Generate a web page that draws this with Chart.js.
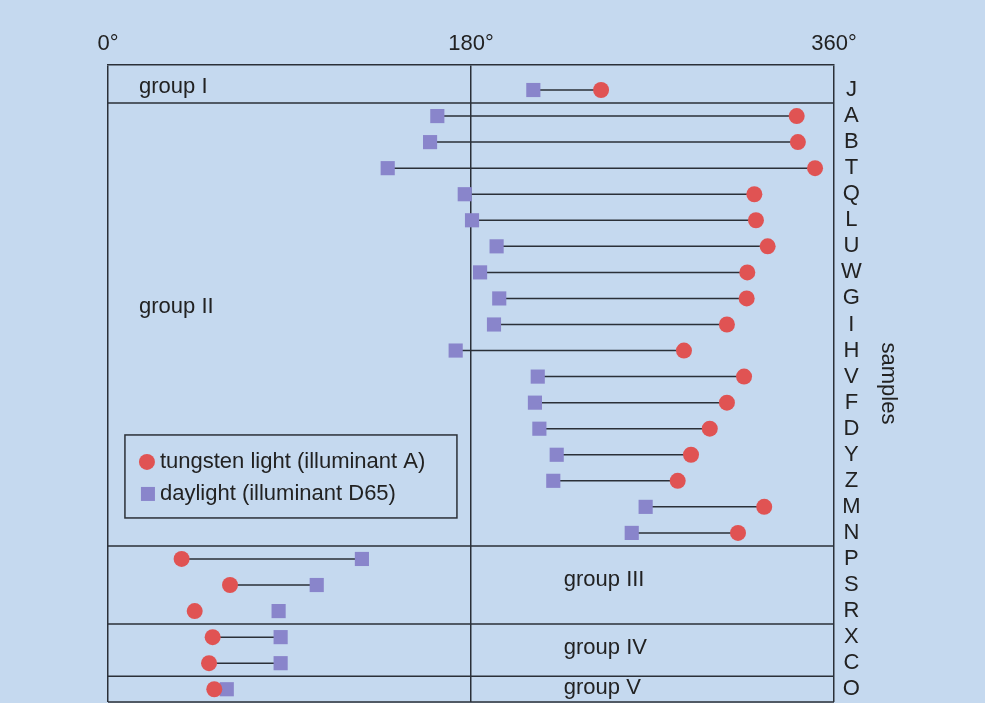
<!DOCTYPE html>
<html>
<head>
<meta charset="utf-8">
<script src="https://cdn.jsdelivr.net/npm/chart.js@4.4.1/dist/chart.umd.min.js"></script>
<style>
  html, body { margin: 0; padding: 0; background: #c5d9ef; }
  #wrap { width: 985px; height: 703px; position: relative; }
</style>
</head>
<body>
<div id="wrap"><canvas id="hueChart"></canvas></div>
<script>
// ====== DATA ======
const samples = ['J','A','B','T','Q','L','U','W','G','I','H','V','F','D','Y','Z','M','N','P','S','R','X','C','O'];
// hue angle (degrees) under tungsten light (illuminant A)
const tungsten = [244.5, 341.5, 342.1, 350.6, 320.5, 321.3, 327.1, 317.0, 316.7, 306.9, 285.6, 315.4,
                  306.9, 298.4, 289.1, 282.5, 325.4, 312.4, 36.5, 60.5, 43.0, 51.9, 50.1, 52.7];
// hue angle (degrees) under daylight (illuminant D65)
const daylight = [210.9, 163.3, 159.7, 138.7, 176.9, 180.5, 192.7, 184.5, 194.0, 191.4, 172.4, 213.1,
                  211.7, 213.9, 222.5, 220.8, 266.6, 259.7, 125.9, 103.5, 84.6, 85.6, 85.6, 58.9];
// samples drawn without a connecting line
const noLink = ['R'];
const xTicks = [0, 180, 360];
const groupNames = ['group I', 'group II', 'group III', 'group IV', 'group V'];
// group boundaries between rows (row index units)
const groupBreaks = [0.5, 17.5, 20.5, 22.5];

const RED = '#e05353';
const PURPLE = '#8985cb';
const INK = '#2b3038';
const FONT = "'Liberation Sans', Arial, Helvetica, sans-serif";

// group label anchors: [x in degrees, y in row units]
const groupLabelPos = [[15.4, -0.1], [15.4, 8.33], [226, 18.8], [226, 21.4], [226, 22.95]];

// connector segments, broken by null gaps
const links = [];
samples.forEach((s, i) => {
  if (noLink.includes(s)) return;
  links.push({x: daylight[i], y: i}, {x: tungsten[i], y: i}, {x: null, y: null});
});

const framePlugin = {
  id: 'frame',
  beforeDatasetsDraw(chart) {
    const {ctx, chartArea: a, scales: {x, y}} = chart;
    ctx.save();
    ctx.strokeStyle = INK;
    ctx.lineWidth = 1.5;
    ctx.beginPath();
    ctx.moveTo(a.left, a.bottom);
    ctx.lineTo(a.right, a.bottom);
    groupBreaks.forEach(b => {
      const py = y.getPixelForValue(b);
      ctx.moveTo(a.left, py);
      ctx.lineTo(a.right, py);
    });
    ctx.stroke();

    ctx.fillStyle = '#222';
    ctx.font = '22px ' + FONT;
    ctx.textBaseline = 'middle';
    ctx.textAlign = 'left';
    groupNames.forEach((g, i) => {
      const p = groupLabelPos[i];
      ctx.fillText(g, x.getPixelForValue(p[0]), y.getPixelForValue(p[1]));
    });
    ctx.restore();
  },
  afterDraw(chart) {
    const {ctx, scales: {x, y}} = chart;
    // legend box
    const bx = x.getPixelForValue(8.4), by = y.getPixelForValue(13.24);
    const bw = 332, bh = 83;
    ctx.save();
    ctx.strokeStyle = INK;
    ctx.lineWidth = 1.5;
    ctx.strokeRect(bx, by, bw, bh);
    ctx.font = '22px ' + FONT;
    ctx.textBaseline = 'middle';
    ctx.textAlign = 'left';
    ctx.fillStyle = RED;
    ctx.beginPath();
    ctx.arc(bx + 22, by + 27, 8, 0, Math.PI * 2);
    ctx.fill();
    ctx.fillStyle = PURPLE;
    ctx.fillRect(bx + 16, by + 52, 14, 14);
    ctx.fillStyle = '#222';
    ctx.fillText(chart.data.datasets[0].label, bx + 35, by + 27);
    ctx.fillText(chart.data.datasets[1].label, bx + 35, by + 59);
    ctx.restore();
  }
};

new Chart(document.getElementById('hueChart'), {
  type: 'scatter',
  data: {
    datasets: [
      {
        label: 'tungsten light (illuminant A)',
        data: tungsten.map((v, i) => ({x: v, y: i})),
        backgroundColor: RED,
        borderWidth: 0,
        pointStyle: 'circle',
        pointRadius: 8,
        order: 1
      },
      {
        label: 'daylight (illuminant D65)',
        data: daylight.map((v, i) => ({x: v, y: i})),
        backgroundColor: PURPLE,
        borderWidth: 0,
        pointStyle: 'rect',
        pointRadius: 10,
        order: 2
      },
      {
        label: 'links',
        data: links,
        showLine: true,
        spanGaps: false,
        borderColor: INK,
        borderWidth: 1.5,
        pointRadius: 0,
        order: 3
      }
    ]
  },
  options: {
    responsive: true,
    maintainAspectRatio: false,
    animation: false,
    layout: { autoPadding: false, padding: { left: 108, right: 0, top: 0, bottom: 1 } },
    plugins: { legend: { display: false }, tooltip: { enabled: false } },
    scales: {
      x: {
        type: 'linear',
        position: 'top',
        min: 0,
        max: 360,
        afterBuildTicks: s => { s.ticks = xTicks.map(v => ({value: v})); },
        afterFit: s => { s.height = 65; s.paddingLeft = 0; s.paddingRight = 0; },
        grid: { color: INK, lineWidth: 1.5, drawTicks: false },
        border: { color: INK, width: 1.5 },
        ticks: {
          padding: 8,
          color: '#222',
          font: { family: FONT, size: 22 },
          maxRotation: 0,
          callback: v => v + '°'
        }
      },
      y: {
        type: 'linear',
        position: 'right',
        reverse: true,
        min: -0.96,
        max: 23.49,
        afterBuildTicks: s => { s.ticks = samples.map((_, i) => ({value: i})); },
        afterFit: s => { s.width = 151; s.paddingTop = 0; s.paddingBottom = 0; },
        grid: { display: false, drawTicks: false },
        border: { display: false },
        ticks: {
          padding: 7,
          crossAlign: 'center',
          color: '#222',
          font: { family: FONT, size: 22 },
          autoSkip: false,
          callback: v => samples[v]
        },
        title: {
          display: true,
          text: 'samples',
          color: '#222',
          font: { family: FONT, size: 22 },
          padding: { top: 84 }
        }
      }
    }
  },
  plugins: [framePlugin]
});
</script>
</body>
</html>
